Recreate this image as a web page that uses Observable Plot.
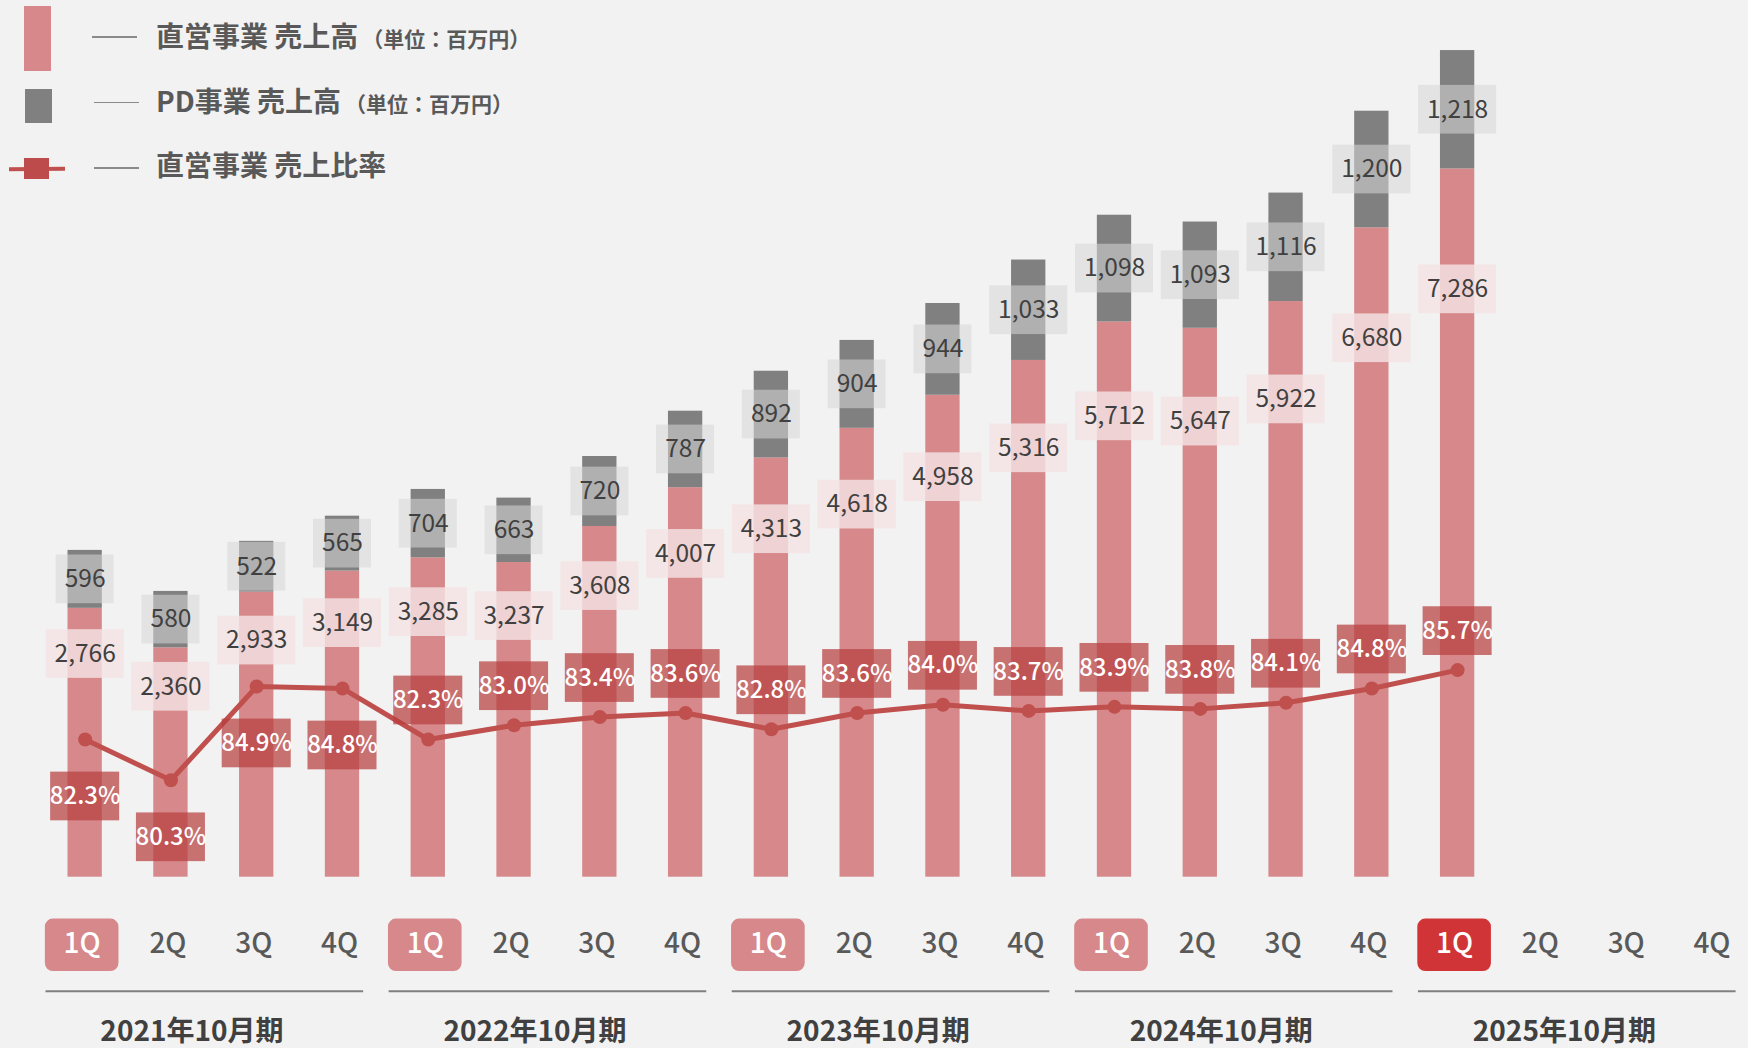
<!DOCTYPE html>
<html lang="ja">
<head>
<meta charset="utf-8">
<script src="https://cdn.jsdelivr.net/npm/d3@7"></script>
<script src="https://cdn.jsdelivr.net/npm/@observablehq/plot@0.6"></script>
<style>
  html, body { margin: 0; padding: 0; background: #F2F2F2; }
  #wrap { position: relative; width: 1748px; height: 1048px; background: #F2F2F2; overflow: hidden;
          font-family: "Noto Sans CJK JP", "Noto Sans", sans-serif; }
  #chart { position: absolute; left: 0; top: 0; }
  #legend { position: absolute; left: 0; top: 0; width: 600px; height: 210px; z-index: 2; }
  .lg { position: absolute; }
  .lg-text { position: absolute; left: 156px; color: #595959; font-weight: 700; font-size: 28px;
             white-space: nowrap; line-height: 1; transform: translateY(-50%); }
  .lg-unit { font-size: 21px; font-weight: 700; margin-left: 4px; }
</style>
</head>
<body>
<div id="wrap">
  <div id="chart"></div>
  <div id="legend"></div>
</div>
<script>
// ---- data ----------------------------------------------------------------
const fiscalYears = ["2021年10月期", "2022年10月期", "2023年10月期", "2024年10月期", "2025年10月期"];
const quarters = ["1Q", "2Q", "3Q", "4Q"];

// 直営事業 売上高（百万円）
const directSales = [2766, 2360, 2933, 3149, 3285, 3237, 3608, 4007, 4313, 4618, 4958, 5316, 5712, 5647, 5922, 6680, 7286];
// PD事業 売上高（百万円）
const pdSales = [596, 580, 522, 565, 704, 663, 720, 787, 892, 904, 944, 1033, 1098, 1093, 1116, 1200, 1218];
// 直営事業 売上比率（%）
const directRatio = [82.3, 80.3, 84.9, 84.8, 82.3, 83.0, 83.4, 83.6, 82.8, 83.6, 84.0, 83.7, 83.9, 83.8, 84.1, 84.8, 85.7];

const seriesNames = ["直営事業", "PD事業"];
const legendLabels = ["直営事業 売上高", "PD事業 売上高", "直営事業 売上比率"];
const unitNote = "（単位：百万円）";

// ---- derived tables ------------------------------------------------------
const slots = fiscalYears.flatMap(fy => quarters.map(q => `${fy} ${q}`));
const rows = directSales.map((d, i) => ({
  i, slot: slots[i], fy: fiscalYears[Math.floor(i / 4)], q: quarters[i % 4],
  direct: d, pd: pdSales[i], ratio: directRatio[i]
}));
const stacked = rows.flatMap(r => [
  {slot: r.slot, series: seriesNames[0], value: r.direct},
  {slot: r.slot, series: seriesNames[1], value: r.pd}
]);
const axisRows = slots.map(s => {
  const [fy, q] = s.split(" ");
  return {slot: s, fy, q};
});
const yearRows = fiscalYears.map(fy => ({fy, first: `${fy} 1Q`, mid: `${fy} 2Q`, last: `${fy} 4Q`}));
const currentYear = fiscalYears[fiscalYears.length - 1];

// ---- scales --------------------------------------------------------------
const Y_MAX = 9019;                       // sales axis (百万円)
const RATIO_DOMAIN = [75.55, 118.52];     // secondary ratio axis (%) spanning the same height
const ratioToY = d3.scaleLinear().domain(RATIO_DOMAIN).range([0, Y_MAX]);

const C_DIRECT = "#D6888A";
const C_PD = "#808080";
const C_RATIO = "#C0504D";
const fmt = d3.format(",");
const pct = v => v.toFixed(1) + "%";
const FONT = "Noto Sans CJK JP";

const barW = 34.3;
const box = (w) => ({insetLeft: (barW - w) / 2, insetRight: (barW - w) / 2, insetTop: -24.35, insetBottom: -24.35});

const earlyRows = rows.filter(d => d.fy === fiscalYears[0]);
const laterRows = rows.filter(d => d.fy !== fiscalYears[0]);
const firstQ = axisRows.filter(d => d.q === quarters[0]);
const qBox = {y1: 0, y2: 0, dx: -3, dy: 68.1, rx: 8, insetLeft: (barW - 73.6) / 2, insetRight: (barW - 73.6) / 2, insetTop: -26.2, insetBottom: -26.2};

const chart = Plot.plot({
  width: 1748,
  height: 1048,
  marginTop: 0,
  marginBottom: 171.3,
  marginLeft: 67.5,
  marginRight: 16.4,
  style: {background: "transparent", fontFamily: FONT, overflow: "visible"},
  x: {domain: slots, paddingInner: 0.6, paddingOuter: 0, round: false, axis: null},
  y: {domain: [0, Y_MAX], axis: null},
  color: {domain: seriesNames, range: [C_DIRECT, C_PD]},
  marks: [
    // stacked sales bars
    Plot.barY(stacked, {x: "slot", y: "value", fill: "series"}),

    // 直営事業 sales labels
    Plot.barY(rows, {x: "slot", y1: d => d.direct * 0.83, y2: d => d.direct * 0.83, fill: "#F4E3E3", fillOpacity: 0.82, ...box(78)}),
    Plot.text(rows, {x: "slot", y: d => d.direct * 0.83, text: d => fmt(d.direct), fill: "#404040", fontSize: 24.5, fontFamily: FONT}),

    // PD事業 sales labels (centred in the grey segment)
    Plot.barY(rows.filter(d => fmt(d.pd).length <= 3), {x: "slot", y1: d => d.direct + d.pd / 2, y2: d => d.direct + d.pd / 2, fill: "#D7D7D7", fillOpacity: 0.55, ...box(58)}),
    Plot.barY(rows.filter(d => fmt(d.pd).length > 3), {x: "slot", y1: d => d.direct + d.pd / 2, y2: d => d.direct + d.pd / 2, fill: "#D7D7D7", fillOpacity: 0.55, ...box(78)}),
    Plot.text(rows, {x: "slot", y: d => d.direct + d.pd / 2, text: d => fmt(d.pd), fill: "#404040", fontSize: 24.5, fontFamily: FONT}),

    // ratio line on the secondary axis
    Plot.line(rows, {x: "slot", y: d => ratioToY(d.ratio), stroke: C_RATIO, strokeWidth: 5}),
    Plot.dot(rows, {x: "slot", y: d => ratioToY(d.ratio), r: 7, fill: C_RATIO}),

    // ratio labels: below the point in the first year, above afterwards
    Plot.barY(earlyRows, {x: "slot", y1: d => ratioToY(d.ratio), y2: d => ratioToY(d.ratio), dy: 57, fill: "#B73E3E", fillOpacity: 0.72, ...box(69)}),
    Plot.text(earlyRows, {x: "slot", y: d => ratioToY(d.ratio), dy: 57, text: d => pct(d.ratio), fill: "white", fontSize: 24, fontWeight: 500, fontFamily: FONT}),
    Plot.barY(laterRows, {x: "slot", y1: d => ratioToY(d.ratio), y2: d => ratioToY(d.ratio), dy: -39, fill: "#B73E3E", fillOpacity: 0.72, ...box(69)}),
    Plot.text(laterRows, {x: "slot", y: d => ratioToY(d.ratio), dy: -39, text: d => pct(d.ratio), fill: "white", fontSize: 24, fontWeight: 500, fontFamily: FONT}),

    // quarter axis: highlighted first quarters
    Plot.barY(firstQ.filter(d => d.fy !== currentYear), {x: "slot", fill: C_DIRECT, ...qBox}),
    Plot.barY(firstQ.filter(d => d.fy === currentYear), {x: "slot", fill: "#D03436", ...qBox}),
    Plot.text(axisRows, {x: "slot", frameAnchor: "bottom", lineAnchor: "middle", dx: -3, dy: 67.3, text: "q",
      fill: d => d.q === quarters[0] ? "white" : "#595959", fontSize: 28, fontWeight: 500, fontFamily: FONT}),

    // fiscal-year grouping rules and labels
    Plot.ruleY(yearRows, {x1: "first", x2: "last", y: 0, dy: 114, stroke: "#808080", strokeWidth: 2, insetLeft: -22, insetRight: -4}),
    Plot.text(yearRows, {x: "mid", frameAnchor: "bottom", lineAnchor: "middle", dx: 21, dy: 155, text: "fy",
      fill: "#404040", fontSize: 28, fontWeight: 700, fontFamily: FONT})
  ]
});
document.getElementById("chart").appendChild(chart);

// ---- legend ----------------------------------------------------------------
const legend = document.getElementById("legend");
const add = (css) => {
  const el = document.createElement("div");
  el.className = "lg";
  el.style.cssText = css;
  legend.appendChild(el);
  return el;
};
// swatches
add(`left:24px;top:6px;width:27px;height:65px;background:${C_DIRECT};`);
add(`left:25px;top:89px;width:27px;height:34px;background:${C_PD};`);
add(`left:9px;top:167px;width:56px;height:4px;background:${C_RATIO};transform:rotate(-0.5deg);`);
add(`left:24px;top:158px;width:25px;height:21px;background:#BE4B4B;`);
// leader lines
const rowsY = [35, 99.5, 164];
add(`left:92px;top:${rowsY[0] + 1}px;width:45px;height:1.5px;background:#8a8a8a;`);
add(`left:94px;top:${rowsY[1] + 2}px;width:45px;height:1.5px;background:#8a8a8a;`);
add(`left:94px;top:${rowsY[2] + 3}px;width:45px;height:1.5px;background:#8a8a8a;`);
// labels
legendLabels.forEach((t, k) => {
  const el = document.createElement("div");
  el.className = "lg-text";
  el.style.top = rowsY[k] + "px";
  el.innerHTML = t + (k < 2 ? `<span class="lg-unit">${unitNote}</span>` : "");
  legend.appendChild(el);
});
</script>
</body>
</html>
